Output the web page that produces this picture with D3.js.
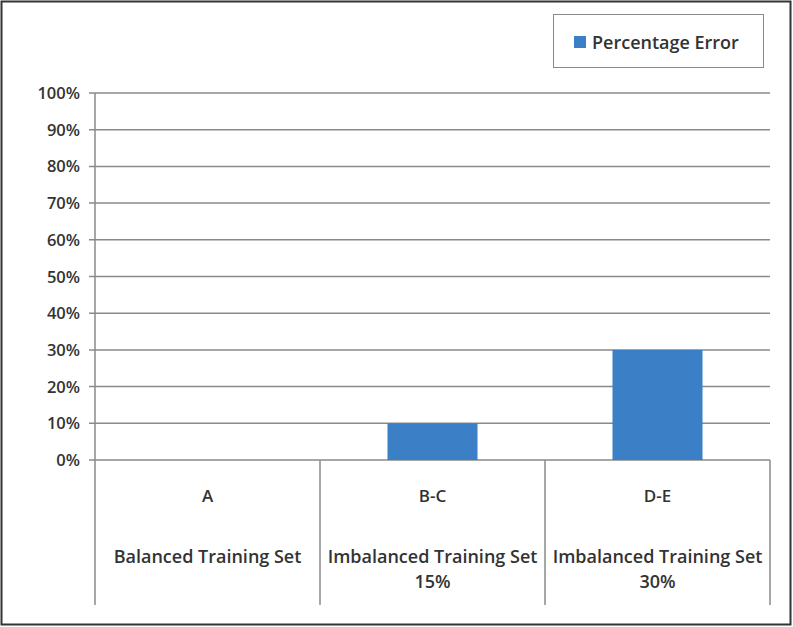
<!DOCTYPE html>
<html>
<head>
<meta charset="utf-8">
<script src="https://cdn.jsdelivr.net/npm/d3@7"></script>
<style>
  body { margin: 0; background: #fff; }
  svg text { font-family: "Open Sans", "DejaVu Sans", sans-serif; fill: #333; font-weight: 600; }
</style>
</head>
<body>
<svg id="chart" width="793" height="627"></svg>
<script>
// data
var categories = ["A", "B-C", "D-E"];
var subLabels = [["Balanced Training Set"], ["Imbalanced Training Set", "15%"], ["Imbalanced Training Set", "30%"]];
var errorValues = [0, 0.10, 0.30];
var yTicks = [0, 0.1, 0.2, 0.3, 0.4, 0.5, 0.6, 0.7, 0.8, 0.9, 1.0];
var seriesName = "Percentage Error";

var svg = d3.select("#chart");
var W = 793, H = 627;
var m = { left: 95, right: 770, top: 93, bottom: 460, catBottom: 605 };

// outer frame
svg.append("rect")
    .attr("x", 1.5).attr("y", 1.5)
    .attr("width", W - 4).attr("height", H - 4)
    .attr("fill", "#fff")
    .attr("stroke", "#333")
    .attr("stroke-width", 2);

var x = d3.scaleBand().domain(categories).range([m.left, m.right]).padding(0);
var y = d3.scaleLinear().domain([0, 1]).range([m.bottom, m.top]);

// gridlines + ticks
svg.append("g").selectAll("line")
    .data(yTicks)
    .join("line")
    .attr("x1", m.left - 6).attr("x2", m.right)
    .attr("y1", d => y(d)).attr("y2", d => y(d))
    .attr("stroke", "#8a8a8a")
    .attr("stroke-width", 1.5);

// y labels
svg.append("g").selectAll("text")
    .data(yTicks)
    .join("text")
    .attr("x", 80)
    .attr("y", d => y(d) + 6)
    .attr("text-anchor", "end")
    .style("font-size", "16.5px")
    .text(d => d3.format(".0%")(d));

// y axis line
svg.append("line")
    .attr("x1", m.left).attr("x2", m.left)
    .attr("y1", m.top).attr("y2", m.bottom)
    .attr("stroke", "#8a8a8a").attr("stroke-width", 1.5);

// bars
var barW = x.bandwidth() * 0.4;
svg.append("g").selectAll("rect")
    .data(errorValues)
    .join("rect")
    .attr("x", (d, i) => x(categories[i]) + (x.bandwidth() - barW) / 2)
    .attr("y", d => y(d))
    .attr("width", barW)
    .attr("height", d => m.bottom - y(d))
    .attr("fill", "#3b7fc6");

// category separators
var seps = categories.map(c => x(c)).concat([m.right]);
svg.append("g").selectAll("line")
    .data(seps)
    .join("line")
    .attr("x1", d => d).attr("x2", d => d)
    .attr("y1", m.bottom).attr("y2", m.catBottom)
    .attr("stroke", "#8a8a8a").attr("stroke-width", 1.5);

// category labels
var cat = svg.append("g").selectAll("g")
    .data(categories)
    .join("g")
    .attr("transform", d => "translate(" + (x(d) + x.bandwidth() / 2) + ",0)");

cat.append("text")
    .attr("y", 502)
    .attr("text-anchor", "middle")
    .style("font-size", "17px")
    .text(d => d);

cat.each(function(d, i) {
    d3.select(this).selectAll("text.sub")
        .data(subLabels[i])
        .join("text")
        .attr("class", "sub")
        .attr("y", (t, j) => 563 + j * 25)
        .attr("text-anchor", "middle")
        .style("font-size", "18px")
        .text(t => t);
});

// legend
var lg = svg.append("g");
lg.append("rect")
    .attr("x", 553.5).attr("y", 14.5)
    .attr("width", 210).attr("height", 53)
    .attr("fill", "#fff").attr("stroke", "#8a8a8a");
lg.append("rect")
    .attr("x", 574).attr("y", 36)
    .attr("width", 12).attr("height", 12)
    .attr("fill", "#3b7fc6");
lg.append("text")
    .attr("x", 592).attr("y", 49)
    .style("font-size", "18px")
    .text(seriesName);
</script>
</body>
</html>
